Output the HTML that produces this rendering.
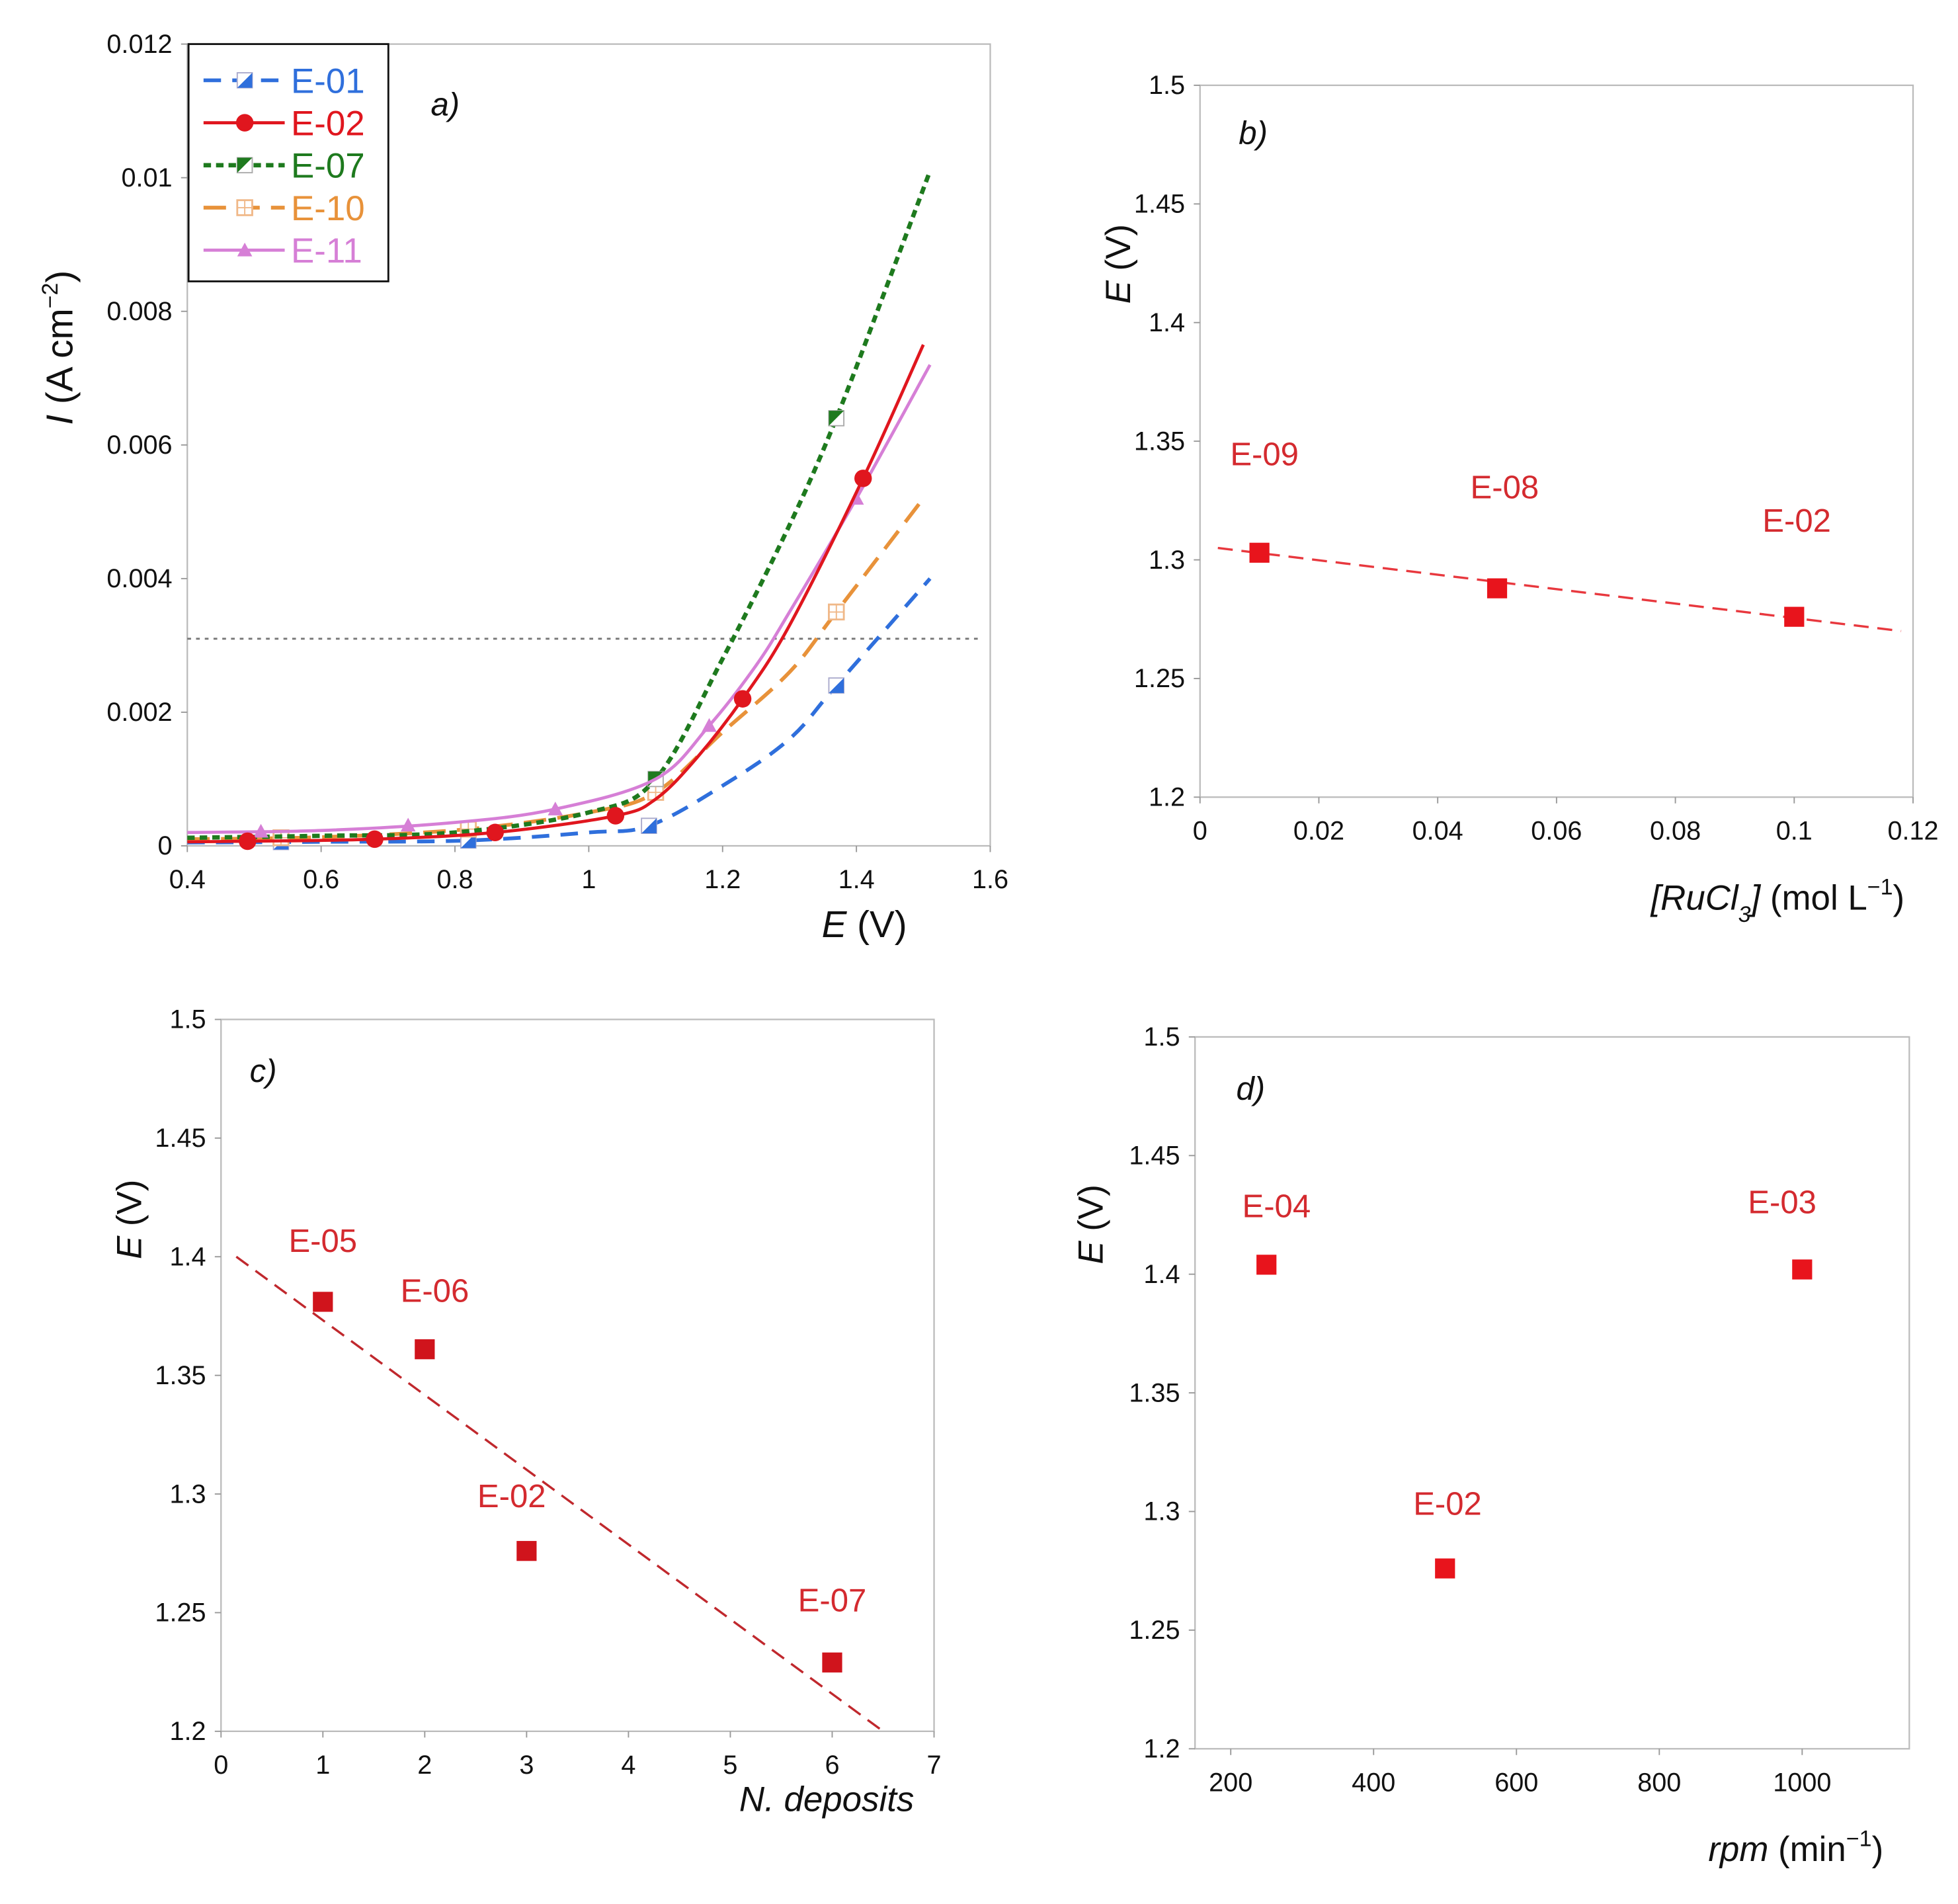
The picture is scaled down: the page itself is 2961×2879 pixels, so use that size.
<!DOCTYPE html>
<html><head><meta charset="utf-8"><style>
html,body{margin:0;padding:0;background:#fff}
svg{display:block;font-family:"Liberation Sans",sans-serif}
</style></head><body>
<svg id="fig" width="2961" height="2879" viewBox="0 0 1568 1524" xmlns="http://www.w3.org/2000/svg"></svg>
<script>
// ---- Panel a data ----
const aE01x=[0.4,0.6,0.82,1.0,1.09,1.2,1.3,1.37,1.51];
const aE01y=[0.00005,0.00006,0.00008,0.0002,0.0003,0.0009,0.0016,0.0024,0.004];
const aE02x=[0.4,0.5,0.68,0.86,1.04,1.1,1.16,1.23,1.3,1.41,1.5];
const aE02y=[0.00006,0.00007,0.0001,0.0002,0.00045,0.0007,0.0013,0.0022,0.0033,0.0055,0.0075];
const aE07x=[0.4,0.6,0.8,1.0,1.1,1.2,1.3,1.37,1.45,1.51];
const aE07y=[0.00012,0.00015,0.0002,0.0005,0.001,0.0028,0.0048,0.0064,0.0085,0.0101];
const aE10x=[0.4,0.6,0.82,1.0,1.1,1.2,1.3,1.37,1.5];
const aE10y=[0.0001,0.00013,0.00025,0.0005,0.0008,0.0017,0.0026,0.0035,0.0052];
const aE11x=[0.4,0.6,0.8,0.95,1.1,1.18,1.25,1.3,1.4,1.51];
const aE11y=[0.0002,0.00023,0.00035,0.00055,0.001,0.0018,0.0027,0.0035,0.0052,0.0072];
const aMk01=[0.54,0.82,1.09,1.37];
const aMk02=[0.49,0.68,0.86,1.04,1.23,1.41];
const aMk07=[1.1,1.37];
const aMk10=[0.54,0.82,1.1,1.37];
const aMk11=[0.51,0.73,0.95,1.18,1.4];
const aThreshold=0.0031;
const aXTicks=[0.4,0.6,0.8,1,1.2,1.4,1.6];
const aYTicks=[0,0.002,0.004,0.006,0.008,0.01,0.012];
// ---- Panel b ----
const bX=[0.01,0.05,0.1];
const bY=[1.303,1.288,1.276];
const bLabels=["E-09","E-08","E-02"];
const bFit=[[0.003,1.305],[0.118,1.27]];
const bXTicks=[0,0.02,0.04,0.06,0.08,0.1,0.12];
// ---- Panel c ----
const cX=[1,2,3,6];
const cY=[1.381,1.361,1.276,1.229];
const cLabels=["E-05","E-06","E-02","E-07"];
const cFit=[[0.15,1.4],[6.5,1.2]];
const cXTicks=[0,1,2,3,4,5,6,7];
// ---- Panel d ----
const dX=[250,500,1000];
const dY=[1.404,1.276,1.402];
const dLabels=["E-04","E-02","E-03"];
const dXTicks=[200,400,600,800,1000];
const eYTicks=[1.2,1.25,1.3,1.35,1.4,1.45,1.5];

const NS="http://www.w3.org/2000/svg";
const svg=document.getElementById('fig');
function mk(tag,attrs,parent,txt){const e=document.createElementNS(NS,tag);for(const k in attrs)e.setAttribute(k,attrs[k]);if(txt!==undefined)e.textContent=txt;(parent||svg).appendChild(e);return e;}
function scale(d0,d1,r0,r1){return v=>r0+(v-d0)/(d1-d0)*(r1-r0);}

function frame(g,L,R,T,B,xt,yt,X,Y,fx,fy){
  let r=mk('rect',{x:L,y:T,width:R-L,height:B-T,fill:'none',stroke:'#bbb','stroke-width':1.2},g);
  
  xt.forEach(v=>{const x=X(v);
    let l=mk('line',{x1:x,x2:x,y1:B,y2:B+5,stroke:'#999'},g);
    
    let t=mk('text',{x:x,y:B+34,'text-anchor':'middle','font-size':21,fill:'#111'},g,fx(v));
    });
  yt.forEach(v=>{const y=Y(v);
    let l=mk('line',{x1:L,x2:L-5,y1:y,y2:y,stroke:'#999'},g);
    
    let t=mk('text',{x:L-12,y:y+7,'text-anchor':'end','font-size':21,fill:'#111'},g,fy(v));
    });
}
function fmt(v){return String(+v.toFixed(4));}
function smoothPath(pts){
  let d=`M${pts[0][0]},${pts[0][1]}`;
  for(let i=0;i<pts.length-1;i++){
    const p0=pts[i-1]||pts[i],p1=pts[i],p2=pts[i+1],p3=pts[i+2]||p2;
    const c1=[p1[0]+(p2[0]-p0[0])/6,p1[1]+(p2[1]-p0[1])/6];
    const c2=[p2[0]-(p3[0]-p1[0])/6,p2[1]-(p3[1]-p1[1])/6];
    d+=`C${c1[0]},${c1[1]} ${c2[0]},${c2[1]} ${p2[0]},${p2[1]}`;
  }
  return d;
}

// ===== Panel a =====
{
const g=mk('g',{});
const L=150,R=793,T=35,B=677;
const X=scale(0.4,1.6,L,R),Y=scale(0,0.012,B,T);
frame(g,L,R,T,B,aXTicks,aYTicks,X,Y,fmt,fmt);
let th=mk('line',{x1:L,x2:R-10,y1:Y(aThreshold),y2:Y(aThreshold),stroke:'#777','stroke-width':1.5,'stroke-dasharray':'3,4'},g);

function interp(xs,ys,x){for(let i=0;i<xs.length-1;i++){if(x>=xs[i]&&x<=xs[i+1]){const t=(x-xs[i])/(xs[i+1]-xs[i]);return ys[i]+t*(ys[i+1]-ys[i]);}}return ys[ys.length-1];}
const series=[
 {n:'e-01',xs:aE01x,ys:aE01y,c:'#2f6fdc',d:'14,9',w:3,mk:aMk01,m:'half'},
 {n:'e-10',xs:aE10x,ys:aE10y,c:'#e8923a',d:'18,9',w:3,mk:aMk10,m:'grid'},
 {n:'e-07',xs:aE07x,ys:aE07y,c:'#1e7a1e',d:'6,4',w:3.5,mk:aMk07,m:'half2'},
 {n:'e-11',xs:aE11x,ys:aE11y,c:'#d67fd6',d:'',w:2.5,mk:aMk11,m:'tri'},
 {n:'e-02',xs:aE02x,ys:aE02y,c:'#e0161e',d:'',w:2.5,mk:aMk02,m:'circ'}];
function marker(par,m,c,x,y){
  let e;
  if(m==='circ')e=mk('circle',{cx:x,cy:y,r:7,fill:c},par);
  else if(m==='tri')e=mk('path',{d:`M${x-6},${y+5}L${x+6},${y+5}L${x},${y-6}Z`,fill:c},par);
  else if(m==='grid'){e=mk('g',{},par);mk('rect',{x:x-6,y:y-6,width:12,height:12,fill:'#fff',stroke:'#f0b888','stroke-width':1.5},e);mk('path',{d:`M${x},${y-6}V${y+6}M${x-6},${y}H${x+6}`,stroke:'#f0b888','stroke-width':1},e);}
  else if(m==='half'){e=mk('g',{},par);mk('rect',{x:x-6,y:y-6,width:12,height:12,fill:'#fff',stroke:'#aac','stroke-width':1},e);mk('path',{d:`M${x-6},${y+6}L${x+6},${y+6}L${x+6},${y-6}Z`,fill:c},e);}
  else {e=mk('g',{},par);mk('rect',{x:x-6,y:y-6,width:12,height:12,fill:'#fff',stroke:'#aaa','stroke-width':1},e);mk('path',{d:`M${x-6},${y-6}L${x+6},${y-6}L${x-6},${y+6}Z`,fill:c},e);}
  
}
series.forEach(s=>{
  let p=mk('path',{d:smoothPath(s.xs.map((x,i)=>[X(x),Y(s.ys[i])])),fill:'none',stroke:s.c,'stroke-width':s.w,'stroke-dasharray':s.d,'stroke-linejoin':'round'},g);
  
  s.mk.forEach(x=>marker(g,s.m,s.c,X(x),Y(interp(s.xs,s.ys,x))));
});
// legend
const lg=mk('g',{},g);
mk('rect',{x:151,y:35,width:160,height:190,fill:'#fff',stroke:'#111','stroke-width':1.5},lg);
const ln=['E-01','E-02','E-07','E-10','E-11'];
const ord=[0,4,2,1,3];
ln.forEach((t,i)=>{const s=series[ord[i]];const y=64+i*34;
  const e=mk('g',{},lg);
  mk('line',{x1:163,x2:228,y1:y,y2:y,stroke:s.c,'stroke-width':s.w,'stroke-dasharray':s.d},e);
  marker(e,s.m,s.c,196,y);
  mk('text',{x:233,y:y+10,'font-size':28,fill:s.c},e,t);});
let a=mk('text',{x:345,y:92,'font-size':26,'font-style':'italic',fill:'#111'},g,'a)');
let xt=mk('text',{x:658,y:750,'font-size':30,fill:'#111'},g);
mk('tspan',{'font-style':'italic'},xt,'E');mk('tspan',{},xt,' (V)');
let yt=mk('text',{transform:'translate(58,340) rotate(-90)','font-size':30,fill:'#111'},g);
mk('tspan',{'font-style':'italic'},yt,'I');mk('tspan',{},yt,' (A cm');mk('tspan',{'font-size':18,dy:-12},yt,'−2');mk('tspan',{dy:12},yt,')');
}

function scatterPanel(name,L,R,T,B,x0,x1,xt,xs,ys,labs,lblOff,fit,plabel,plx,ply,ytx,yty){
  const g=mk('g',{});
  const X=scale(x0,x1,L,R),Y=scale(1.2,1.5,B,T);
  frame(g,L,R,T,B,xt,eYTicks,X,Y,fmt,fmt);
  if(fit){let f=mk('line',{x1:X(fit[0][0]),y1:Y(fit[0][1]),x2:X(fit[1][0]),y2:Y(fit[1][1]),stroke:name==='panel-c'?'#c0282d':'#e8383e','stroke-width':1.8,'stroke-dasharray':'12,7'},g);
    }
  xs.forEach((x,i)=>{const px=X(x),py=Y(ys[i]);
    let r=mk('rect',{x:px-8,y:py-8,width:16,height:16,fill:name==='panel-c'?'#d0141c':'#e8141c'},g);
    
    let t=mk('text',{x:px+lblOff[i][0],y:py+lblOff[i][1],'text-anchor':'middle','font-size':26,fill:'#d42a2f'},g,labs[i]);
    });
  let p=mk('text',{x:plx,y:ply,'font-size':26,'font-style':'italic',fill:'#111'},g,plabel);
  let yt=mk('text',{transform:`translate(${ytx},${yty}) rotate(-90)`,'font-size':28,fill:'#111'},g);
  mk('tspan',{'font-style':'italic'},yt,'E');mk('tspan',{},yt,' (V)');
  return g;
}
// panel b
{const g=scatterPanel('panel-b',961,1532,68,638,0,0.12,bXTicks,bX,bY,bLabels,[[4,-70],[6,-72],[2,-68]],bFit,'b)',992,115,905,243);
let t=mk('text',{x:1322,y:728,'font-size':28,fill:'#111'},g);
mk('tspan',{'font-style':'italic'},t,'[RuCl');mk('tspan',{'font-style':'italic','font-size':18,dy:10},t,'3');mk('tspan',{'font-style':'italic',dy:-10},t,']');mk('tspan',{},t,' (mol L');mk('tspan',{'font-size':18,dy:-12},t,'−1');mk('tspan',{dy:12},t,')');}
// panel c
{const g=scatterPanel('panel-c',177,748,816,1386,0,7,cXTicks,cX,cY,cLabels,[[0,-40],[8,-38],[-12,-35],[0,-41]],cFit,'c)',200,866,113,1008);
let t=mk('text',{x:592,y:1450,'font-size':28,'font-style':'italic',fill:'#111'},g,'N. deposits');}
// panel d
{const g=scatterPanel('panel-d',957,1529,830,1400,150,1150,dXTicks,dX,dY,dLabels,[[8,-38],[2,-43],[-16,-45]],null,'d)',990,880,883,1012);
let t=mk('text',{x:1368,y:1490,'font-size':28,fill:'#111'},g);
mk('tspan',{'font-style':'italic'},t,'rpm');mk('tspan',{},t,' (min');mk('tspan',{'font-size':18,dy:-12},t,'−1');mk('tspan',{dy:12},t,')');}
</script>
</body></html>
